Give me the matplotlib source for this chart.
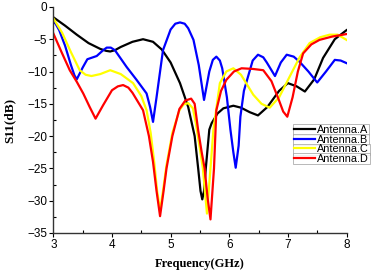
import numpy as np
import matplotlib.pyplot as plt
from matplotlib.ticker import MultipleLocator

# S11 curves (frequency in GHz, S11 in dB)
freq_a = [3.0, 3.2, 3.4, 3.6, 3.8, 3.9, 3.97, 4.05, 4.15, 4.35, 4.53, 4.7, 4.85, 5.0, 5.16, 5.3,
          5.41, 5.47, 5.51, 5.54, 5.57, 5.60, 5.66, 5.70, 5.8, 5.9, 6.07, 6.2, 6.35, 6.49, 6.65,
          6.85, 7.0, 7.15, 7.29, 7.45, 7.6, 7.8, 8.0]
s11_a = [-1.6, -2.9, -4.3, -5.6, -6.5, -6.8, -6.9, -6.7, -6.2, -5.4, -5.0, -5.4, -6.6, -8.6, -11.8,
         -15.5, -20.0, -25.0, -28.5, -29.8, -28.5, -25.0, -19.0, -18.0, -16.5, -15.7, -15.3, -15.6,
         -16.3, -16.8, -15.5, -13.0, -11.8, -12.3, -13.1, -11.2, -7.9, -5.0, -3.6]

freq_b = [3.0, 3.1, 3.2, 3.3, 3.36, 3.4, 3.45, 3.5, 3.58, 3.74, 3.85, 3.91, 3.98, 4.05, 4.25, 4.42,
          4.59, 4.65, 4.70, 4.76, 4.87, 5.0, 5.08, 5.16, 5.24, 5.3, 5.39, 5.48, 5.57, 5.66, 5.72,
          5.78, 5.84, 5.88, 5.96, 6.02, 6.07, 6.11, 6.16, 6.19, 6.25, 6.32, 6.4, 6.49, 6.58, 6.64,
          6.78, 6.88, 6.98, 7.1, 7.2, 7.35, 7.5, 7.65, 7.8, 7.9, 8.0]
s11_b = [-2.0, -3.6, -6.0, -9.0, -10.6, -11.2, -10.3, -9.4, -8.1, -7.6, -6.7, -6.3, -6.3, -6.7, -9.3,
         -11.3, -13.4, -15.5, -17.8, -14.0, -6.7, -3.5, -2.6, -2.4, -2.6, -3.3, -5.1, -9.0, -14.4,
         -10.0, -8.2, -7.7, -8.3, -9.5, -14.0, -19.0, -22.5, -24.9, -21.5, -17.0, -13.0, -10.8,
         -8.3, -7.4, -7.8, -8.6, -10.7, -8.6, -7.4, -7.7, -8.5, -10.0, -11.7, -10.0, -8.2, -8.3,
         -8.7]

freq_c = [3.0, 3.15, 3.3, 3.45, 3.55, 3.65, 3.8, 3.97, 4.15, 4.36, 4.5, 4.59, 4.66, 4.72, 4.77,
          4.82, 4.87, 4.93, 5.03, 5.15, 5.22, 5.3, 5.38, 5.43, 5.50, 5.55, 5.62, 5.68, 5.73, 5.84,
          5.95, 6.07, 6.2, 6.41, 6.55, 6.69, 6.85, 7.03, 7.2, 7.37, 7.55, 7.71, 7.85, 8.0]
s11_c = [-1.75, -4.0, -7.0, -9.8, -10.5, -10.7, -10.4, -9.8, -10.4, -11.8, -13.8, -16.0, -19.5, -24.0,
         -28.5, -31.5, -28.5, -24.5, -19.5, -16.0, -15.1, -14.9, -15.7, -18.0, -22.0, -25.0, -32.0,
         -25.0, -19.0, -11.8, -10.0, -9.5, -10.5, -13.6, -15.0, -15.6, -14.0, -10.8, -7.8, -5.6,
         -4.7, -4.3, -4.3, -5.1]

freq_d = [3.0, 3.14, 3.28, 3.4, 3.51, 3.62, 3.72, 3.85, 4.0, 4.1, 4.19, 4.28, 4.35, 4.53, 4.63,
          4.70, 4.76, 4.82, 4.88, 4.93, 5.03, 5.15, 5.25, 5.35, 5.41, 5.47, 5.53, 5.58, 5.63, 5.68,
          5.74, 5.78, 5.86, 5.95, 6.08, 6.21, 6.4, 6.58, 6.72, 6.85, 6.92, 6.99, 7.08, 7.17, 7.26,
          7.4, 7.54, 7.75, 8.0]
s11_d = [-4.1, -7.0, -9.8, -11.6, -13.4, -15.5, -17.3, -15.2, -12.9, -12.3, -12.1, -12.5, -13.3,
         -16.0, -20.0, -24.0, -28.5, -32.4, -28.5, -25.0, -20.0, -15.8, -14.5, -14.2, -15.0, -19.1,
         -22.5, -25.0, -29.5, -32.9, -25.0, -16.0, -13.0, -11.3, -10.0, -9.5, -9.6, -9.8, -11.5,
         -14.5, -16.2, -17.0, -14.0, -10.0, -7.2, -5.8, -5.1, -4.6, -4.2]

labels = ['Antenna.A', 'Antenna.B', 'Antenna.C', 'Antenna.D']
colors = ['black', '#0000ff', '#ffff00', '#ff0000']

fig = plt.figure(figsize=(3.73, 2.77), dpi=100)
ax = fig.add_axes([0.143, 0.159, 0.786, 0.816])

lines = []
for f, s, lab, c in zip([freq_a, freq_b, freq_c, freq_d], [s11_a, s11_b, s11_c, s11_d], labels, colors):
    ln, = ax.plot(f, s, color=c, linewidth=1.6, label=lab, solid_joinstyle='round')
    lines.append(ln)

ax.set_xlim(3, 8)
ax.set_ylim(-35, 0)
ax.xaxis.set_major_locator(MultipleLocator(1))
ax.xaxis.set_minor_locator(MultipleLocator(0.5))
ax.yaxis.set_major_locator(MultipleLocator(5))
ax.yaxis.set_minor_locator(MultipleLocator(2.5))
ax.spines['top'].set_visible(False)
ax.spines['right'].set_visible(False)
for sp in ['left', 'bottom']:
    ax.spines[sp].set_linewidth(1.0)
    ax.spines[sp].set_color('#333333')
ax.tick_params(which='major', direction='out', length=3, width=0.8, labelsize=8.5, pad=1.5)
ax.tick_params(which='minor', direction='in', length=2, width=0.8)
for t in ax.get_xticklabels() + ax.get_yticklabels():
    t.set_family('Liberation Sans')

ax.set_xlabel('Frequency(GHz)', family='Liberation Serif', fontweight='bold', fontsize=9, labelpad=5)
ax.set_ylabel('S11(dB)', family='Liberation Serif', fontweight='bold', fontsize=9.5, labelpad=8)

# each legend entry sits in its own little box, as in the reference
tops = [124, 134, 143.5, 153]
for ln, top in zip(lines, tops):
    leg = fig.legend(handles=[ln], loc='upper left', bbox_to_anchor=(293 / 373, 1 - top / 277),
                     prop={'family': 'Liberation Sans', 'size': 7.8}, frameon=True, fancybox=False,
                     borderpad=0.05, handlelength=2.0, handletextpad=0.2, borderaxespad=0)
    leg.get_frame().set_edgecolor('#999999')
    leg.get_frame().set_linewidth(0.6)

fig.savefig('out.png', dpi=100)
